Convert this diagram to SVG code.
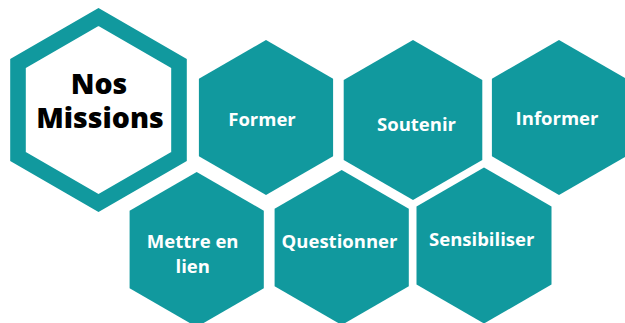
<svg xmlns="http://www.w3.org/2000/svg" width="625" height="323" viewBox="0 0 625 323">
<style>
.hex{fill:#11999e;}
.lbl{font-family:"Open Sans","Liberation Sans",sans-serif;font-weight:700;font-size:18.5px;fill:#ffffff;text-anchor:middle;}
.title{font-family:"Open Sans","Liberation Sans",sans-serif;font-weight:800;font-size:28.5px;fill:#000000;text-anchor:middle;}
</style>
<rect width="625" height="323" fill="#ffffff"/>
<g id="connectors"></g>
<g id="nos-missions">
<polygon points="98.5,17 179,63.5 179,156.5 98.5,203 18,156.5 18,63.5" fill="#ffffff" stroke="#11999e" stroke-width="15.6"/>
<text class="title" x="99" y="93.5">Nos</text>
<text class="title" x="100" y="128">Missions</text>
</g>
<g id="former">
<polygon class="hex" points="266,40 333.1,78.75 333.1,156.25 266,195 198.9,156.25 198.9,78.75"/>
<text class="lbl" x="262" y="126">Former</text>
</g>
<g id="soutenir">
<polygon class="hex" points="413,40 482.3,80 482.3,160 413,200 343.7,160 343.7,80"/>
<text class="lbl" x="416.5" y="131">Soutenir</text>
</g>
<g id="informer">
<polygon class="hex" points="559,40 626.1,78.75 626.1,156.25 559,195 491.9,156.25 491.9,78.75"/>
<text class="lbl" x="557" y="125">Informer</text>
</g>
<g id="mettre-en-lien">
<polygon class="hex" points="196.7,172 263.8,210.75 263.8,288.25 196.7,327 129.6,288.25 129.6,210.75"/>
<text class="lbl" x="192.7" y="248">Mettre en</text>
<text class="lbl" x="192.7" y="272.5">lien</text>
</g>
<g id="questionner">
<polygon class="hex" points="341.7,170 408.8,208.75 408.8,286.25 341.7,325 274.6,286.25 274.6,208.75"/>
<text class="lbl" x="339.5" y="248">Questionner</text>
</g>
<g id="sensibiliser">
<polygon class="hex" points="484,167.5 551.5,206.5 551.5,284.5 484,323.5 416.5,284.5 416.5,206.5"/>
<text class="lbl" x="481.7" y="246">Sensibiliser</text>
</g>
</svg>
